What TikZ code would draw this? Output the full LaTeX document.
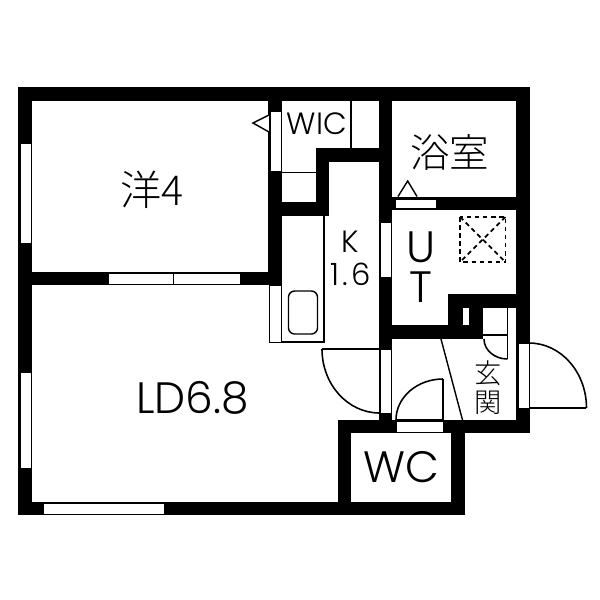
\documentclass[tikz,border=0pt]{standalone}
\usepackage{fontspec}
\setmainfont{Poppins Light}
\newfontfamily\widefont[LetterSpace=10]{Poppins Light}
\newfontfamily\jpfont{Noto Sans CJK JP Light}
\tikzset{
  wall/.style={fill=black,draw=none},
  opening/.style={fill=white,draw=black,line width=0.5pt},
  thinline/.style={draw=black,line width=0.8pt},
  swing/.style={draw=black,line width=0.9pt},
  vent/.style={draw=black,line width=1pt,dash pattern=on 2.6pt off 2pt},
  roomlabel/.style={inner sep=0pt,font=\fontsize{25}{28}\selectfont},
  smalllabel/.style={inner sep=0pt,font=\fontsize{17.5}{18.8}\selectfont},
  jplabel/.style={inner sep=0pt,font=\jpfont\fontsize{22.5}{26}\selectfont},
}
\begin{document}
\begin{tikzpicture}[x=0.02cm,y=-0.02cm]
            \useasboundingbox (0,0) rectangle (600,600);

            % outer walls
            \fill[wall] (18,87) rectangle (530,100.5);
            \fill[wall] (18,87) rectangle (32,515);
            \fill[wall] (18,501.5) rectangle (465,515);
            \fill[wall] (516,87) rectangle (530,433);
            \fill[wall] (338,420) rectangle (530,433);
            \fill[wall] (338,420) rectangle (351.5,515);
            \fill[wall] (451.5,420) rectangle (465,515);

            % inner walls
            \fill[wall] (32,271.5) rectangle (282,285);
            \fill[wall] (268.5,87) rectangle (282,285);
            \fill[wall] (316,148) rectangle (392,161.5);
            \fill[wall] (316,148) rectangle (329,215.5);
            \fill[wall] (282,202) rectangle (329,215.5);
            \fill[wall] (379,87) rectangle (392.5,433);
            \fill[wall] (392,196.5) rectangle (530,210);
            \fill[wall] (392,325) rectangle (483,339);
            \fill[wall] (448,294) rectangle (530,307.5);
            \fill[wall] (448,294) rectangle (483,339);

            % windows and openings
            \draw[opening] (20,143) rectangle (31,243);
            \draw[opening] (20,372) rectangle (31,468);
            \draw[opening] (43,503) rectangle (164,514);
            \draw[opening] (108,273) rectangle (173,284);
            \draw[opening] (173,273) rectangle (240,284);
            \draw[opening] (270,111) rectangle (281,171);
            \draw[opening] (269.5,285) rectangle (281,342);
            \draw[opening] (380,222) rectangle (391,277);
            \draw[opening] (380,349) rectangle (391,413);
            \draw[opening] (395,199) rectangle (436.5,208.5);
            \draw[opening] (462,307.5) rectangle (469,325);
            \draw[opening] (518,343) rectangle (529,408);
            \draw[opening] (396,421) rectangle (443,432);

            % wic
            \draw[thinline] (351,100.5) -- (351,148);
            \draw[thinline] (282,172.5) -- (316,172.5);
            \draw[thinline,fill=white] (269,115) -- (253,123) -- (269,132);

            % kitchen
            \draw[thinline] (324,215.5) -- (324,342) -- (281,342);
            \draw[thinline,rounded corners=3.5pt] (288.5,291) rectangle (317.5,334);

            % bath
            \draw[thinline,fill=white] (398,196.5) -- (407.7,181) -- (417,196.5);
            \draw[vent] (460,217) rectangle (505.5,262);
            \draw[vent] (460,217) -- (505.5,262);
            \draw[vent] (505.5,217) -- (460,262);

            % doors
            \draw[swing] (322,349) -- (379.5,349);
            \draw[swing] (322,349) arc[start angle=180,end angle=270,x radius=57.5,y radius=-64];
            \draw[swing] (586.5,408) -- (529,408);
            \draw[swing] (586.5,408) arc[start angle=0,end angle=90,x radius=57.5,y radius=-65];
            \draw[swing] (443,420) -- (443,379);
            \draw[swing] (443,379) arc[start angle=90,end angle=180,x radius=47,y radius=-41];
            \draw[thinline] (396,420) -- (443,420);

            % entrance
            \draw[thinline] (441,339) -- (462.5,420);
            \draw[thinline] (483,335) -- (507.5,335);
            \draw[thinline] (507.5,307.5) -- (507.5,359);
            \draw[swing] (484,339) arc[start angle=180,end angle=270,x radius=23.5,y radius=-20];

            % labels
            \node[jplabel,font=\jpfont\fontsize{23.5}{26}\selectfont] (yo) at (152,190) {洋4};
            \node[jplabel] (bath) at (450,152) {浴室};
            \node[smalllabel] (wic) at (317,124) {WIC};
            \node[smalllabel,align=center] (kitchen) at (350.5,258) {K\\{\widefont 1.6}};
            \node[roomlabel,align=center,font=\fontsize{25}{22.7}\selectfont] (ut) at (421,267) {U\\T};
            \node[roomlabel] (ld) at (192.5,398) {LD6.8};
            \node[roomlabel] (wc) at (401.5,467.5) {WC};
            \node[jplabel,align=center,font=\jpfont\fontsize{15.5}{16.5}\selectfont] (entrance) at (488,387.5) {玄\\関};
\end{tikzpicture}
\end{document}
